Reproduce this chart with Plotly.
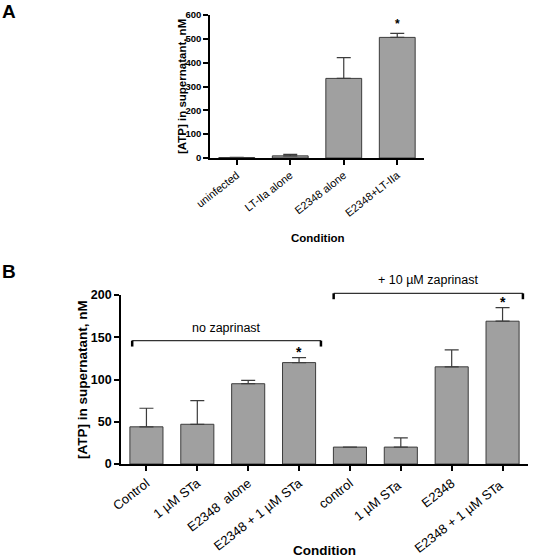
import plotly.graph_objects as go

# ---- Data ----
a_categories = ["uninfected", "LT-IIa alone", "E2348 alone", "E2348+LT-IIa"]
a_values = [2, 9, 334, 506]
a_errors = [1, 6, 87, 17]
a_significant = [False, False, False, True]
a_ticks = [0, 100, 200, 300, 400, 500, 600]

b_categories = ["Control", "1 µM STa", "E2348  alone", "E2348 + 1 µM STa",
                "control", "1 µM STa ", "E2348", "E2348 + 1 µM STa "]
b_values = [44, 47, 95, 120, 20, 20, 115, 169]
b_errors = [22, 28, 4, 6, 0, 11, 20, 16]
b_significant = [False, False, False, True, False, False, False, True]
b_ticks = [0, 50, 100, 150, 200]
b_groups = ["no zaprinast", "+ 10 µM zaprinast"]

W, H = 536, 558
FILL = "#a0a0a0"
EDGE = "#3c3c3c"
FONT = "Liberation Sans, Arial, sans-serif"

# plot areas in pixels
A_X = (210, 424); A_Y = (15, 158)
B_X = (121, 528); B_Y = (295, 464)

def px_dom_x(x0, x1):
    return [x0 / W, x1 / W]

def px_dom_y(top, bottom):
    return [1 - bottom / H, 1 - top / H]

a_range = [0, 600]
b_range = [0, 200]
bdom = px_dom_y(*B_Y)

def b_paper(v):
    return bdom[0] + (bdom[1] - bdom[0]) * (v - b_range[0]) / (b_range[1] - b_range[0])

fig = go.Figure()

fig.add_trace(go.Bar(
    x=list(range(len(a_categories))), y=a_values, width=0.67,
    marker=dict(color=FILL, line=dict(color=EDGE, width=1)),
    error_y=dict(type="data", array=a_errors, arrayminus=[0] * 4, symmetric=False,
                 color=EDGE, thickness=1.2, width=7),
    xaxis="x", yaxis="y", showlegend=False))

fig.add_trace(go.Bar(
    x=list(range(len(b_categories))), y=b_values, width=0.65,
    marker=dict(color=FILL, line=dict(color=EDGE, width=1)),
    error_y=dict(type="data", array=b_errors, arrayminus=[0] * 8, symmetric=False,
                 color=EDGE, thickness=1.2, width=7),
    xaxis="x2", yaxis="y2", showlegend=False))

axis_common = dict(showline=True, linecolor="black", linewidth=1.6, ticks="outside",
                   ticklen=5, tickwidth=1.6, tickcolor="black", showgrid=False,
                   zeroline=False, fixedrange=True)

fig.update_layout(
    width=W, height=H, margin=dict(l=0, r=0, t=0, b=0, autoexpand=False),
    plot_bgcolor="white", paper_bgcolor="white",
    font=dict(family=FONT, color="black"),
    xaxis=dict(domain=px_dom_x(*A_X), anchor="y", range=[-0.5, 3.5],
               tickvals=list(range(4)), ticktext=a_categories, tickangle=-38,
               tickfont=dict(size=11), **axis_common),
    yaxis=dict(domain=px_dom_y(*A_Y), anchor="x", range=a_range, tickvals=a_ticks,
               tickfont=dict(size=9.5, weight="bold"), **axis_common),
    xaxis2=dict(domain=px_dom_x(*B_X), anchor="y2", range=[-0.5, 7.5],
                tickvals=list(range(8)), ticktext=b_categories, tickangle=-38,
                tickfont=dict(size=13), **axis_common),
    yaxis2=dict(domain=bdom, anchor="x2", range=b_range, tickvals=b_ticks,
                tickfont=dict(size=12.5, weight="bold"), **axis_common),
)

ann = []
# panel letters
ann.append(dict(text="<b>A</b>", x=9 / W, y=1 - 12 / H, xref="paper", yref="paper",
                showarrow=False, font=dict(size=19), xanchor="center", yanchor="middle"))
ann.append(dict(text="<b>B</b>", x=9 / W, y=1 - 272 / H, xref="paper", yref="paper",
                showarrow=False, font=dict(size=19), xanchor="center", yanchor="middle"))
# axis titles
ann.append(dict(text="<b>[ATP] in supernatant, nM</b>", x=182 / W, y=1 - 87 / H,
                xref="paper", yref="paper", textangle=-90, showarrow=False,
                font=dict(size=11.5), xanchor="center", yanchor="middle"))
ann.append(dict(text="<b>Condition</b>", x=318 / W, y=1 - 238 / H,
                xref="paper", yref="paper", showarrow=False,
                font=dict(size=11.5), xanchor="center", yanchor="middle"))
ann.append(dict(text="<b>[ATP] in supernatant, nM</b>", x=82 / W, y=1 - 380 / H,
                xref="paper", yref="paper", textangle=-90, showarrow=False,
                font=dict(size=13.5), xanchor="center", yanchor="middle"))
ann.append(dict(text="<b>Condition</b>", x=324 / W, y=1 - 550 / H,
                xref="paper", yref="paper", showarrow=False,
                font=dict(size=13.5), xanchor="center", yanchor="middle"))

# significance stars
for i, s in enumerate(a_significant):
    if s:
        ann.append(dict(text="*", x=i, y=a_values[i] + a_errors[i] + 40, xref="x", yref="y",
                        showarrow=False, font=dict(size=12, weight="bold"), yanchor="middle"))
for i, s in enumerate(b_significant):
    if s:
        ann.append(dict(text="*", x=i, y=b_values[i] + b_errors[i] + 7, xref="x2", yref="y2",
                        showarrow=False, font=dict(size=14, weight="bold"), yanchor="middle"))

# group brackets
brackets = [(-0.28, 3.43, 146, b_groups[0]), (3.68, 7.40, 202, b_groups[1])]
shapes = []
for x0, x1, yv, label in brackets:
    yp = b_paper(yv)
    ytick = b_paper(yv - 7)
    shapes.append(dict(type="line", xref="x2", yref="paper", x0=x0, x1=x1, y0=yp, y1=yp,
                       line=dict(color="#333333", width=1.2)))
    for xe in (x0, x1):
        shapes.append(dict(type="line", xref="x2", yref="paper", x0=xe, x1=xe, y0=yp, y1=ytick,
                           line=dict(color="black", width=2.5)))
    ann.append(dict(text=label, x=(x0 + x1) / 2, y=yp + 13 / H, xref="x2", yref="paper",
                    showarrow=False, font=dict(size=12.5), xanchor="center", yanchor="middle"))

fig.update_layout(annotations=ann, shapes=shapes)

fig.write_html("out.html", config={"displayModeBar": False},
               post_script="document.body.style.margin='0';")
